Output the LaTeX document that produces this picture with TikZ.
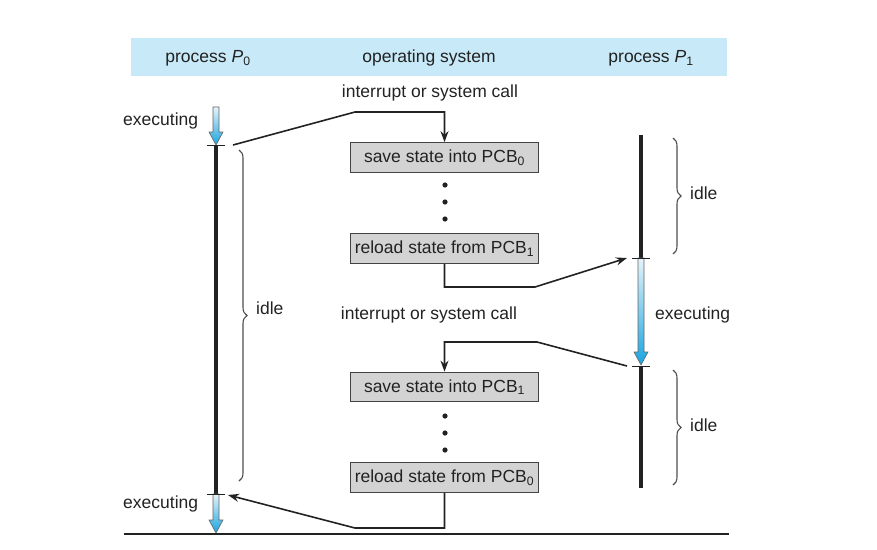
\documentclass[tikz,border=0pt]{standalone}
\usepackage{fontspec}
\setmainfont{Liberation Sans}
\usepackage{tikz}
\definecolor{bandblue}{HTML}{C8E9F8}
\definecolor{boxgray}{HTML}{D3D3D3}
\definecolor{inkgray}{HTML}{222222}
\definecolor{execblue}{HTML}{19A4DF}
\definecolor{execpale}{HTML}{E6F3FA}
\usetikzlibrary{positioning, arrows.meta, decorations.pathreplacing, calc}
\tikzstyle{arrow} = [line width=1.6pt, draw=inkgray, -{Stealth[length=11pt,width=8pt]}]

\begin{document}
\begin{tikzpicture}[x=1pt,y=-1pt,nodes={font=\fontsize{17.5}{20}\selectfont, text=inkgray}]
                    \tikzstyle{txt} = [inner sep=0pt, text height=12.5pt, text depth=3.7pt, yshift=-1.5pt]
                    \tikzstyle{statebox} = [draw=inkgray!85, fill=boxgray, line width=1.2pt,
                    minimum width=188pt, minimum height=29.5pt, inner sep=0pt]
                    \tikzstyle{timeline} = [line width=4pt, draw=inkgray]
                    \tikzstyle{tick} = [line width=1pt, draw=inkgray]
                    \tikzstyle{idlebrace} = [decorate, decoration={brace, amplitude=8pt},
                    draw=inkgray!80, line width=1.1pt]

                    \useasboundingbox (0,0) rectangle (877,549);
                    \fill[bandblue] (131,38) rectangle (727,76);

                    % column heads
                    \node[txt](head0) at (208,57) {process \textit{P}\textsubscript{0}};
                    \node[txt](heados) at (429,57) {operating system};
                    \node[txt](head1) at (651,57) {process \textit{P}\textsubscript{1}};

                    \node[txt](call0) at (430,92) {interrupt or system call};
                    \node[txt](call1) at (429,314) {interrupt or system call};
                    \node[txt, anchor=west](exec0) at (123,120) {executing};
                    \node[txt, anchor=west](exec1) at (655,314) {executing};
                    \node[txt, anchor=west](exec2) at (123,503) {executing};
                    \node[txt, anchor=west](idle0) at (256,309) {idle};
                    \node[txt, anchor=west](idle1) at (690,194) {idle};
                    \node[txt, anchor=west](idle2) at (690,426) {idle};

                    % operating system boxes
                    \node[statebox](save0) at (444.5,157.5) {save state into PCB\textsubscript{0}};
                    \node[statebox](load1) at (444.5,248.5) {reload state from PCB\textsubscript{1}};
                    \node[statebox](save1) at (444.5,387) {save state into PCB\textsubscript{1}};
                    \node[statebox](load0) at (444.5,477.5) {reload state from PCB\textsubscript{0}};
                    \foreach \y in {185,202,219,416,433,450}
                        \fill[inkgray] (445,\y) circle (2.6pt);

                    % time lines
                    \coordinate (t0) at (216,145);
                    \coordinate (t1) at (216,494);
                    \coordinate (u0) at (641,258);
                    \coordinate (u1) at (641,366);
                    \draw[timeline] (t0) -- (t1);
                    \draw[timeline] (641,135) -- (u0);
                    \draw[timeline] (u1) -- (641,488);
                    \draw[line width=1.6pt, inkgray] (124,534) -- (729,534);

                    \foreach \ax/\ay/\az in {216/107/145, 216/494/533, 641/258/365}
                        \shade[top color=execpale, bottom color=execblue, draw=inkgray!70, line width=0.6pt]
                        (\ax-3,\ay) -- (\ax+3,\ay) -- (\ax+3,\az-13) -- (\ax+7,\az-13) -- (\ax,\az)
                        -- (\ax-7,\az-13) -- (\ax-3,\az-13) -- cycle;
                    \foreach \c in {t0,t1,u0,u1}
                        \draw[tick] ($(\c)+(-9,0)$) -- ($(\c)+(9,0)$);

                    \draw[idlebrace] (239,150) -- (239,481);
                    \draw[idlebrace] (673,138) -- (673,254);
                    \draw[idlebrace] (673,370) -- (673,485);

                    % switches
                    \coordinate (s0) at (233,145);
                    \coordinate (e1) at (627,258);
                    \coordinate (s1) at (627,366);
                    \coordinate (e0) at (228,495);
                    \draw[arrow] (s0) -- (355,112) -| (save0.north);
                    \draw[arrow] (load1.south) |- (535,287) -- (e1);
                    \draw[arrow] (s1) -- (537,342) -| (save1.north);
                    \draw[arrow] (load0.south) |- (355,528) -- (e0);
            \end{tikzpicture}
\end{document}
